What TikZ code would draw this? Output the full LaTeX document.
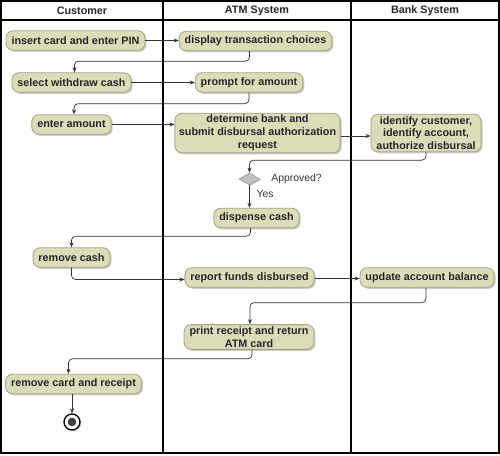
\documentclass[tikz,border=0pt]{standalone}
\usepackage{fontspec}
\setmainfont{Liberation Sans}
\usetikzlibrary{arrows.meta,shapes.geometric,shadows,calc}
\definecolor{actfill}{HTML}{DCDCB9}
\definecolor{actdraw}{HTML}{A3A383}
\definecolor{conncol}{HTML}{333333}
\tikzset{
  act/.style={rectangle, rounded corners=7pt, fill=actfill, draw=actdraw, line width=0.8pt,
    font=\fontsize{10.8}{12.8}\selectfont\bfseries, text=black!85, align=center,
    minimum height=19.5pt, inner xsep=5.5pt, inner ysep=2pt,
    drop shadow={shadow xshift=1.5pt, shadow yshift=-1.5pt, opacity=0.35, fill=black!60}},
  conn/.style={draw=conncol, line width=0.7pt, rounded corners=4pt, -{Stealth[length=5pt,width=4pt]}},
  lane/.style={draw=black, line width=1.2pt},
  hdr/.style={font=\fontsize{10.8}{12}\selectfont\bfseries, text=black!85},
  lbl/.style={font=\fontsize{10.4}{12}\selectfont, text=black!80},
  dec/.style={diamond, aspect=1.7, minimum width=21pt, minimum height=12pt, inner sep=0pt,
    fill=black!25, draw=black!40, line width=0.6pt,
    drop shadow={shadow xshift=1pt, shadow yshift=-1pt, opacity=0.3, fill=black!60}},
  endnode/.style={circle, minimum size=16pt, inner sep=0pt, fill=white, draw=black, line width=1.3pt,
    drop shadow={shadow xshift=1.2pt, shadow yshift=-1.2pt, opacity=0.35, fill=black!60}}
}
\begin{document}
\begin{tikzpicture}[x=1pt,y=-1pt]
\useasboundingbox (0,0) rectangle (500,455);
% swimlanes
\draw[lane] (1,1) rectangle (499,453);
\draw[lane] (1,20) -- (499,20);
\draw[lane] (163,1) -- (163,453);
\draw[lane] (351,1) -- (351,453);
\node[hdr] (hc) at (82,10.5) {Customer};
\node[hdr] (ha) at (257,10.5) {ATM System};
\node[hdr] (hb) at (425,10.5) {Bank System};
% activities
\node[act] (n1) at (75.5,40.5) {insert card and enter PIN};
\node[act] (n2) at (255.5,41) {display transaction choices};
\node[act] (n3) at (71.5,82.5) {select withdraw cash};
\node[act] (n4) at (249,82.5) {prompt for amount};
\node[act] (n5) at (71.5,124.5) {enter amount};
\node[act, inner xsep=4pt] (n6) at (257.5,133) {determine bank and\\submit disbursal authorization\\request};
\node[act] (n7) at (426,133) {identify customer,\\identify account,\\authorize disbursal};
\node[dec] (d1) at (249.5,179) {};
\node[lbl] (lap) at (296.5,179) {Approved?};
\node[lbl] (lyes) at (265,194) {Yes};
\node[act] (n9) at (256.5,218) {dispense cash};
\node[act] (n10) at (71.5,257.5) {remove cash};
\node[act] (n11) at (249.5,277.5) {report funds disbursed};
\node[act] (n12) at (427,277.5) {update account balance};
\node[act] (n13) at (249,337) {print receipt and return\\ATM card};
\node[act] (n14) at (73.5,384) {remove card and receipt};
\node[endnode] (e1) at (72,422) {};
\fill[black!75] (e1.center) circle (4.3pt);
% connector anchors
\coordinate (c6) at ([yshift=-3pt]n6.east);
\coordinate (c11) at ([yshift=-1pt]n11.east);
% connectors
\draw[conn] (n1.east) -- (n2.west |- n1.east);
\draw[conn] ([xshift=-6pt]n2.south) -- ++(0,10) -| ([xshift=3pt]n3.north);
\draw[conn] (n3.east) -- (n4.west |- n3.east);
\draw[conn] (n4.south) -- ++(0,11) -| ([xshift=2.5pt]n5.north);
\draw[conn] (n5.east) -- (n6.west |- n5.east);
\draw[conn] (c6) -- (n7.west |- c6);
\draw[conn] (n7.south) -- ++(0,8) -| (d1.north);
\draw[conn] (d1.south) -- (n9.north -| d1.south);
\draw[conn] ([xshift=-6pt]n9.south) -- ++(0,8) -| (n10.north);
\draw[conn] (n10.south) |- ([yshift=-2pt]n11.west);
\draw[conn] (c11) -- (n12.west |- c11);
\draw[conn] ([xshift=-1pt]n12.south) -- ++(0,15) -| ([xshift=1pt]n13.north);
\draw[conn] ([xshift=3pt]n13.south) -- ++(0,9) -| ([xshift=-5pt]n14.north);
\draw[conn] ([xshift=-1.5pt]n14.south) -- (e1.north);
\end{tikzpicture}
\end{document}
